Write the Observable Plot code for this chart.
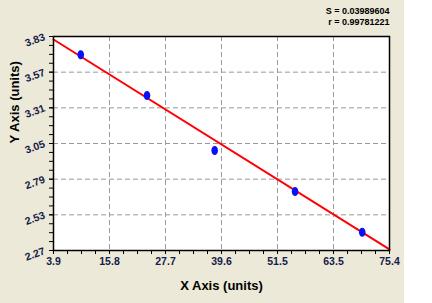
<!DOCTYPE html>
<html><head><meta charset="utf-8">
<script src="https://cdn.jsdelivr.net/npm/d3@7"></script>
<script src="https://cdn.jsdelivr.net/npm/@observablehq/plot@0.6"></script>
<style>
html,body{margin:0;padding:0;background:#fff;}
</style></head><body><div id="chart"></div>
<script>
// Data
const pointX = [9.7, 23.8, 38.2, 55.3, 69.6];
const pointY = [3.697, 3.40, 2.999, 2.70, 2.403];
const fitX = [3.9, 75.4];
const fitY = [3.808, 2.278];
const xTickLabels = ["3.9","15.8","27.7","39.6","51.5","63.5","75.4"];
const yTickLabels = ["2.27","2.53","2.79","3.05","3.31","3.57","3.83"];
const statLines = ["S = 0.03989604", "r = 0.99781221"];
const xTitle = "X Axis (units)";
const yTitle = "Y Axis (units)";
const xDomain = [3.9, 75.4];
const yDomain = [2.27, 3.83];

const points = pointX.map((x, i) => ({x, y: pointY[i]}));
const fit = fitX.map((x, i) => ({x, y: fitY[i]}));

const nx = xTickLabels.length - 1, ny = yTickLabels.length - 1;
const xStep = (xDomain[1] - xDomain[0]) / nx;
const yStep = (yDomain[1] - yDomain[0]) / ny;
const xMajor = xTickLabels.map((_, i) => xDomain[0] + i * xStep);
const yMajor = yTickLabels.map((_, i) => yDomain[0] + i * yStep);
const xMinor = d3.range(nx * 4 + 1).map(i => xDomain[0] + i * xStep / 4);
const yMinor = d3.range(ny * 4 + 1).map(i => yDomain[0] + i * yStep / 4);
const xFmt = d => xTickLabels[Math.round((d - xDomain[0]) / xStep)];
const yFmt = d => yTickLabels[Math.round((d - yDomain[0]) / yStep)];

const ellipse = {draw(ctx) {
  const rx = 3.3, ry = 4.5, k = 0.5523;
  ctx.moveTo(rx, 0);
  ctx.bezierCurveTo(rx, ry * k, rx * k, ry, 0, ry);
  ctx.bezierCurveTo(-rx * k, ry, -rx, ry * k, -rx, 0);
  ctx.bezierCurveTo(-rx, -ry * k, -rx * k, -ry, 0, -ry);
  ctx.bezierCurveTo(rx * k, -ry, rx, -ry * k, rx, 0);
  ctx.closePath();
}};

const tickColor = "#14204a";

const chart = Plot.plot({
  width: 432,
  height: 303,
  marginLeft: 53,
  marginRight: 43,
  marginTop: 36,
  marginBottom: 53,
  style: "background: linear-gradient(to right, #ECE9D8 404px, #ffffff 404px); font-family: 'Liberation Sans', Arial, sans-serif; font-weight: bold; overflow: visible;",
  x: {domain: xDomain},
  y: {domain: yDomain},
  marks: [
    Plot.frame({fill: "white", stroke: null}),
    Plot.gridX(xMajor.slice(1, -1), {stroke: "#999", strokeOpacity: 1, strokeDasharray: "5,3"}),
    Plot.gridY(yMajor.slice(1, -1), {stroke: "#999", strokeOpacity: 1, strokeDasharray: "5,3"}),
    Plot.line(fit, {x: "x", y: "y", stroke: "#ff0000", strokeWidth: 2}),
    Plot.dot(points, {x: "x", y: "y", symbol: ellipse, fill: "#0a10f5", stroke: null}),
    Plot.frame({stroke: "black", strokeWidth: 1.5}),
    Plot.axisX(xMinor, {tickSize: 4, text: null, label: null, stroke: "black"}),
    Plot.axisY(yMinor, {tickSize: 4, text: null, label: null, stroke: "black"}),
    Plot.axisX(xMajor, {tickSize: 4, tickPadding: 3, tickFormat: xFmt, label: null, fontSize: 10.5, fill: tickColor, stroke: "black"}),
    Plot.axisY(yMajor, {tickSize: 4, tickPadding: 5, tickFormat: yFmt, tickRotate: -20, label: null, fontSize: 10.5, fill: tickColor, stroke: "black"}),
    Plot.text([statLines[0]], {text: d => d, frameAnchor: "top-right", dy: -29, textAnchor: "end", fontSize: 9, fill: "black"}),
    Plot.text([statLines[1]], {text: d => d, frameAnchor: "top-right", dy: -18, textAnchor: "end", fontSize: 9, fill: "black"}),
    Plot.text([xTitle], {text: d => d, frameAnchor: "bottom", dy: 39, fontSize: 13, fill: "black"}),
    Plot.text([yTitle], {text: d => d, frameAnchor: "left", dx: -39, rotate: -90, fontSize: 13, fill: "black"})
  ]
});
document.getElementById("chart").appendChild(chart);
</script>
</body></html>
